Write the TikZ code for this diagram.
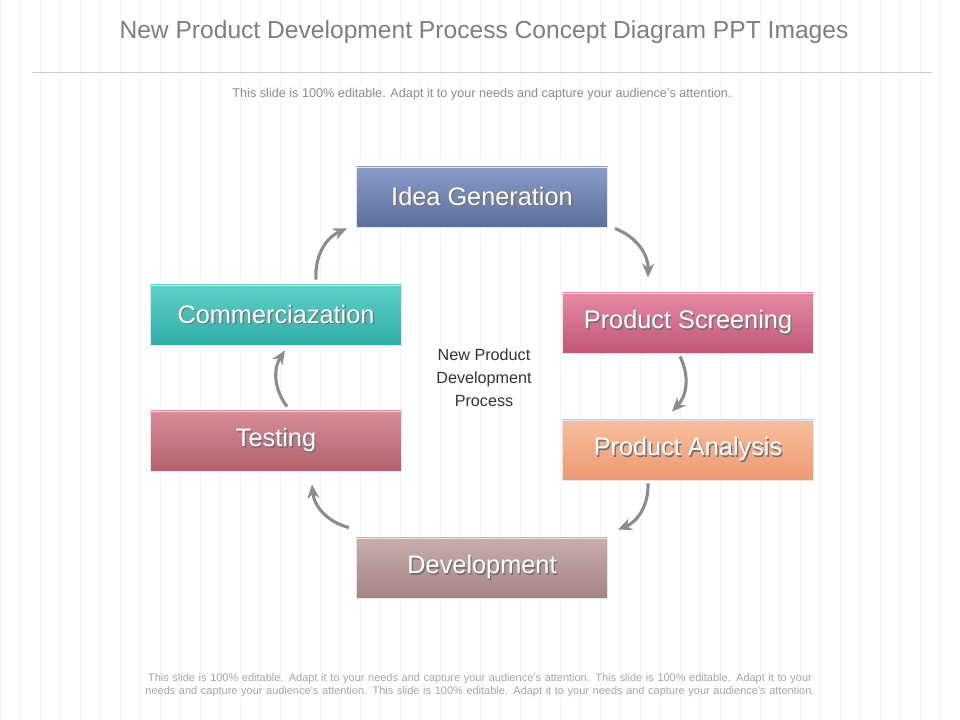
\documentclass[tikz,border=0pt]{standalone}
\usepackage{fontspec}
\setmainfont{Liberation Sans}
\usetikzlibrary{arrows.meta}

\definecolor{titlegray}{HTML}{7F7F7F}
\definecolor{ideatop}{HTML}{8A9CC8}
\definecolor{ideabot}{HTML}{5B6F9E}
\definecolor{screentop}{HTML}{E58AA4}
\definecolor{screenbot}{HTML}{C25677}
\definecolor{analtop}{HTML}{F7BE9C}
\definecolor{analbot}{HTML}{EE9A72}
\definecolor{devtop}{HTML}{C8AEAC}
\definecolor{devbot}{HTML}{A48482}
\definecolor{testtop}{HTML}{D88E98}
\definecolor{testbot}{HTML}{B2606C}
\definecolor{commtop}{HTML}{5DD0C8}
\definecolor{commbot}{HTML}{2FAEA6}

\newcommand{\shtext}[1]{\makebox[0pt][l]{\hspace{1pt}\raisebox{-1pt}{\color{black!55}#1}}#1}

\tikzset{
  stepbox/.style={minimum width=6.275cm, minimum height=1.5cm, inner sep=0pt,
    text=white, font=\fontsize{18}{20}\selectfont, draw=white!80!gray, line width=0.6pt},
  cyc/.style={draw=gray!90, line width=2.2pt, -{Stealth[length=3.5mm,width=3mm]}}
}

\begin{document}
\begin{tikzpicture}[x=0.025cm, y=-0.025cm]
    \useasboundingbox (0,0) rectangle (960,720);
    \fill[white] (0,0) rectangle (960,720);
    \draw[black!4, line width=0.4pt] (0,0) grid[step=20] (960,720);

    % title and notes
    \node[text=titlegray, font=\fontsize{17.5}{20}\selectfont] (title) at (484,32) {New Product Development Process Concept Diagram PPT Images};
    \draw[black!20] (32,72) -- (932,72);
    \node[text=black!45, font=\fontsize{9}{11}\selectfont] (subtitle) at (482,94) {This slide is 100\% editable. Adapt it to your needs and capture your audience's attention.};
    \node[text=black!35, font=\fontsize{7.8}{9.5}\selectfont, align=center, text width=22.8cm] (footer) at (480,685) {This slide is 100\% editable. Adapt it to your needs and capture your audience's attention. This slide is 100\% editable. Adapt it to your needs and capture your audience's attention. This slide is 100\% editable. Adapt it to your needs and capture your audience's attention.};

    % steps
    \node[stepbox, top color=ideatop, bottom color=ideabot] (idea) at (482,197) {\shtext{Idea Generation}};
    \node[stepbox, top color=screentop, bottom color=screenbot] (screen) at (688,323) {\shtext{Product Screening}};
    \node[stepbox, top color=analtop, bottom color=analbot] (anal) at (688,450) {\shtext{Product Analysis}};
    \node[stepbox, top color=devtop, bottom color=devbot] (dev) at (482,568) {\shtext{Development}};
    \node[stepbox, top color=testtop, bottom color=testbot] (test) at (276,441) {\shtext{Testing}\hspace{1.2em}};
    \node[stepbox, top color=commtop, bottom color=commbot] (comm) at (276,315) {\shtext{Commerciazation}};

    \node[text=black!80, align=center, font=\fontsize{11.5}{16.5}\selectfont] (center) at (484,378) {New Product\\Development\\Process};

    % cycle arrows
    \draw[cyc] ([xshift=0.175cm,yshift=-0.025cm]idea.south east) to[bend left=35] ([xshift=-1cm,yshift=0.375cm]screen.north);
    \draw[cyc] ([xshift=-0.2cm,yshift=-0.075cm]screen.south) to[bend left=35] ([xshift=-0.4cm,yshift=0.2cm]anal.north);
    \draw[cyc] ([xshift=-1cm,yshift=-0.075cm]anal.south) to[bend left=35] ([xshift=0.25cm,yshift=0.2cm]dev.north east);
    \draw[cyc] ([xshift=-0.175cm,yshift=0.25cm]dev.north west) to[bend left=35] ([xshift=0.9cm,yshift=-0.325cm]test.south);
    \draw[cyc] ([xshift=0.275cm,yshift=0.1cm]test.north) to[bend left=35] ([xshift=0.225cm,yshift=-0.125cm]comm.south);
    \draw[cyc] ([xshift=1cm,yshift=0.125cm]comm.north) to[bend left=35] ([xshift=-0.225cm,yshift=-0.025cm]idea.south west);
\end{tikzpicture}
\end{document}
